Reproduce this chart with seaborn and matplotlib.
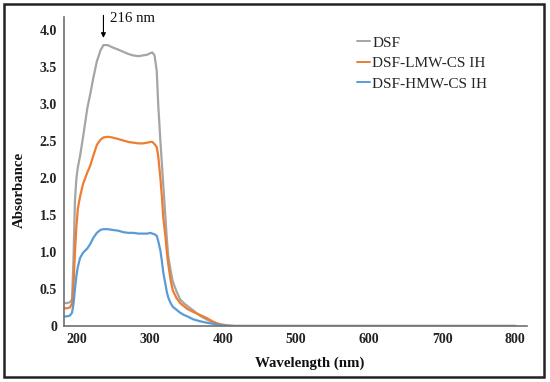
import matplotlib
matplotlib.use("Agg")
import matplotlib.pyplot as plt
import seaborn as sns
import pandas as pd
from matplotlib.patches import Rectangle
from matplotlib.ticker import FixedLocator, FuncFormatter

# ---------------- data ----------------
wavelength = [182, 186, 190, 193, 195, 197, 199, 201, 204, 208, 214, 218, 222, 227,
              232, 236, 242, 248, 256, 263, 270, 277, 284, 290, 296, 300, 303, 306,
              309, 311, 314, 316, 318, 321, 323, 325, 328, 331, 336, 341, 346, 351,
              359, 368, 377, 386, 396, 405, 415, 430, 500, 600, 700, 800]

dsf = [0.31, 0.31, 0.32, 0.36, 0.90, 1.70, 2.00, 2.15, 2.30, 2.55, 2.95, 3.14, 3.35, 3.58,
       3.73, 3.80, 3.80, 3.77, 3.74, 3.71, 3.68, 3.66, 3.65, 3.66, 3.67, 3.69, 3.70, 3.66,
       3.45, 3.00, 2.50, 2.20, 1.90, 1.45, 1.15, 0.93, 0.75, 0.60, 0.47, 0.36, 0.31, 0.27,
       0.21, 0.14, 0.09, 0.05, 0.025, 0.01, 0.0, 0.0, 0.0, 0.0, 0.0, 0.0]

dsf_lmw = [0.24, 0.24, 0.25, 0.30, 0.55, 1.00, 1.35, 1.59, 1.75, 1.92, 2.08, 2.17, 2.30, 2.45,
           2.52, 2.55, 2.56, 2.55, 2.53, 2.51, 2.49, 2.48, 2.47, 2.47, 2.48, 2.49, 2.49, 2.46,
           2.42, 2.30, 2.00, 1.75, 1.46, 1.20, 0.98, 0.82, 0.62, 0.48, 0.38, 0.31, 0.27, 0.23,
           0.19, 0.15, 0.11, 0.06, 0.015, 0.005, 0.0, 0.0, 0.0, 0.0, 0.0, 0.0]

dsf_hmw = [0.13, 0.13, 0.14, 0.18, 0.30, 0.50, 0.68, 0.80, 0.92, 0.99, 1.05, 1.11, 1.19, 1.26,
           1.30, 1.31, 1.31, 1.30, 1.29, 1.27, 1.26, 1.26, 1.25, 1.25, 1.25, 1.26, 1.25, 1.24,
           1.22, 1.15, 1.02, 0.88, 0.72, 0.56, 0.45, 0.38, 0.31, 0.26, 0.22, 0.18, 0.15, 0.13,
           0.09, 0.065, 0.045, 0.03, 0.01, 0.0, 0.0, 0.0, 0.0, 0.0, 0.0, 0.0]

series_names = ["DSF", "DSF-LMW-CS IH", "DSF-HMW-CS IH"]
series_colors = ["#A5A5A5", "#ED7D31", "#5B9BD5"]
x_ticks = [200, 300, 400, 500, 600, 700, 800]
y_ticks = [0, 0.5, 1.0, 1.5, 2.0, 2.5, 3.0, 3.5, 4.0]

df = pd.concat([
    pd.DataFrame({"Wavelength": wavelength, "Absorbance": vals, "Sample": name})
    for name, vals in zip(series_names, [dsf, dsf_lmw, dsf_hmw])
], ignore_index=True)

# ---------------- style ----------------
sns.set_theme(style="white")
plt.rcParams["font.family"] = ["Liberation Serif", "DejaVu Serif"]

fig = plt.figure(figsize=(5.5, 3.82), dpi=100)
ax = fig.add_axes([64 / 550, 1 - 326 / 382, (527 - 64) / 550, (326 - 17) / 382])

sns.lineplot(data=df, x="Wavelength", y="Absorbance", hue="Sample",
             hue_order=series_names, palette=series_colors, linewidth=1.6,
             ax=ax, legend=True)

ax.set_xlim(182, 816)
ax.set_ylim(0, 4.18)
ax.xaxis.set_major_locator(FixedLocator(x_ticks))
ax.yaxis.set_major_locator(FixedLocator(y_ticks))
ax.yaxis.set_major_formatter(FuncFormatter(lambda v, p: "0" if v == 0 else f"{v:.1f}"))
ax.tick_params(axis="both", length=0, labelsize=10, colors="#222222")
ax.tick_params(axis="y", pad=5)
ax.tick_params(axis="x", pad=5)
for lbl in ax.get_xticklabels() + ax.get_yticklabels():
    lbl.set_fontweight("bold")

for s in ["top", "right"]:
    ax.spines[s].set_visible(False)
for s in ["left", "bottom"]:
    ax.spines[s].set_color("#707070")
    ax.spines[s].set_linewidth(1.2)

ax.set_xlabel("Wavelength (nm)", fontsize=10.7, fontweight="bold", color="#111111")
ax.set_ylabel("Absorbance", fontsize=10.7, fontweight="bold", color="#111111")
ax.xaxis.set_label_coords(0.53, -0.1)
ax.yaxis.set_label_coords(-0.083, 0.44)

handles, labels = ax.get_legend_handles_labels()
leg = ax.legend(handles, labels, loc="upper left", frameon=False,
                bbox_to_anchor=(357 / 550, 1 - 36 / 382), bbox_transform=fig.transFigure,
                fontsize=11, handlelength=0.85, handletextpad=0.15, labelspacing=0.45,
                borderpad=0, borderaxespad=0)
for line in leg.get_lines():
    line.set_linewidth(1.4)

# annotation
ax.annotate("", xy=(236, 3.86), xytext=(236, 4.24),
            arrowprops=dict(arrowstyle="-|>", color="black", lw=0.8, mutation_scale=7),
            annotation_clip=False)
ax.text(245, 4.16, "216 nm", fontsize=10.7, va="center", ha="left", color="#111111", clip_on=False)

# outer frame
fig.patches.append(Rectangle((4 / 550, 1 - 377 / 382), 540 / 550, 373 / 382,
                             transform=fig.transFigure, fill=False,
                             edgecolor="#222222", linewidth=1.8))

fig.savefig("out.png", dpi=100)
